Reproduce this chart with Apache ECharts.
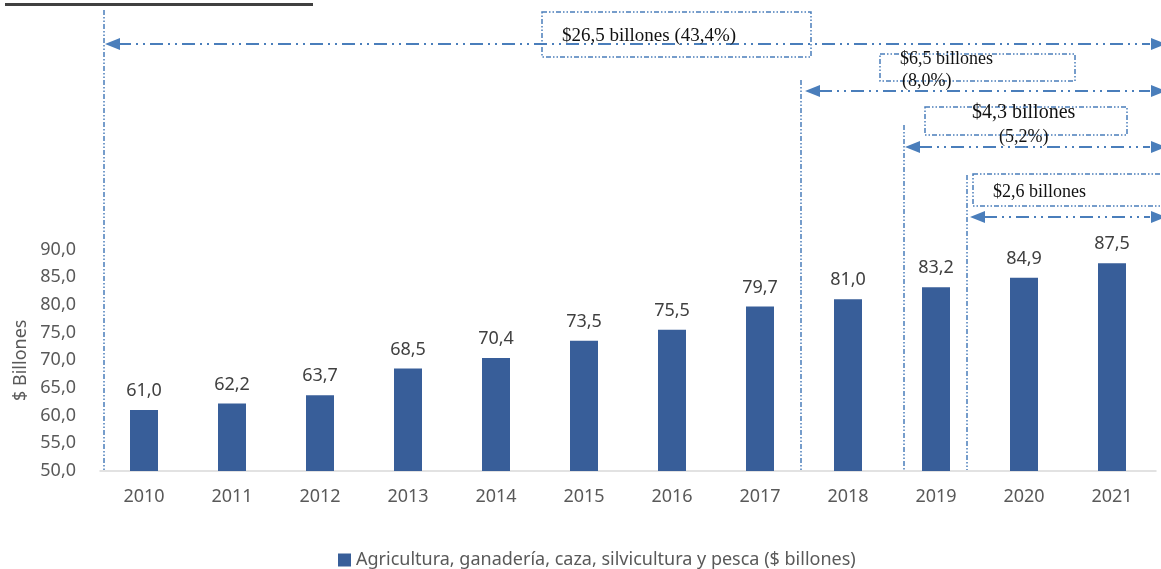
<!DOCTYPE html>
<html>
<head>
<meta charset="utf-8">
<script src="https://cdn.jsdelivr.net/npm/echarts@6/dist/echarts.min.js"></script>
<style>
  html, body { margin: 0; padding: 0; background: #fff; }
  #chart { width: 1161px; height: 569px; }
</style>
</head>
<body>
<div id="chart"></div>
<script>
const years = ['2010', '2011', '2012', '2013', '2014', '2015', '2016', '2017', '2018', '2019', '2020', '2021'];
const valores = [61.0, 62.2, 63.7, 68.5, 70.4, 73.5, 75.5, 79.7, 81.0, 83.2, 84.9, 87.5];
const serieNombre = 'Agricultura, ganadería, caza, silvicultura y pesca ($ billones)';
const notas = ['$26,5 billones (43,4%)', '$6,5 billones', '(8,0%)', '$4,3 billones', '(5,2%)', '$2,6 billones'];

const azul = '#4a7ebb';
const fmt = v => v.toFixed(1).replace('.', ',');

// helpers para las anotaciones
function hLine(x1, x2, y) {
  return { type: 'line', shape: { x1, y1: y, x2, y2: y },
    style: { stroke: azul, lineWidth: 2, lineDash: [13, 5, 2, 5, 2, 5] } };
}
function vLine(x, y1, y2) {
  return { type: 'line', shape: { x1: x, y1, x2: x, y2 },
    style: { stroke: azul, lineWidth: 1.5, lineDash: [5, 2, 1.5, 2, 1.5, 2] } };
}
function box(x1, y1, x2, y2) {
  return { type: 'rect', shape: { x: x1, y: y1, width: x2 - x1, height: y2 - y1 },
    style: { fill: 'none', stroke: azul, lineWidth: 1.5, lineDash: [5, 2, 1.5, 2, 1.5, 2] } };
}
function arrowL(x, y) {
  return { type: 'polygon', shape: { points: [[x, y], [x + 15, y - 6], [x + 15, y + 6]] },
    style: { fill: azul } };
}
function arrowR(x, y) {
  return { type: 'polygon', shape: { points: [[x, y], [x - 15, y - 6], [x - 15, y + 6]] },
    style: { fill: azul } };
}
function nota(text, x, y, size) {
  return { type: 'text', x, y,
    style: { text, fill: '#111', font: size + 'px "Liberation Serif", serif', verticalAlign: 'middle' } };
}

const graficos = [
  { type: 'rect', shape: { x: 5, y: 3, width: 308, height: 3 }, style: { fill: '#404040' } },
  vLine(104, 10, 470), vLine(801, 80, 470), vLine(904, 125, 470), vLine(967, 175, 470),
  hLine(118, 1150, 44), arrowL(105, 44), arrowR(1166, 44),
  hLine(819, 1150, 91), arrowL(805, 91), arrowR(1166, 91),
  hLine(919, 1150, 147), arrowL(905, 147), arrowR(1166, 147),
  hLine(984, 1150, 217), arrowL(970, 217), arrowR(1166, 217),
  box(542, 12, 811, 57), box(880, 54, 1075, 81), box(925, 107, 1127, 135), box(973, 174, 1166, 206),
  nota(notas[0], 562, 36, 19),
  nota(notas[1], 900, 59, 18), nota(notas[2], 902, 81, 18),
  nota(notas[3], 972, 113, 20), nota(notas[4], 999, 137, 18),
  nota(notas[5], 993, 192, 18)
];

const chart = echarts.init(document.getElementById('chart'));
const option = {
  animation: false,
  textStyle: { fontFamily: '"Noto Sans", sans-serif' },
  grid: { left: 100, right: 5, top: 249.5, bottom: 98 },
  legend: {
    data: [serieNombre],
    left: 333, top: 546,
    itemWidth: 13, itemHeight: 13, itemGap: 4,
    icon: 'rect',
    textStyle: { fontSize: 18, color: '#595959' }
  },
  xAxis: {
    type: 'category',
    data: years,
    axisLine: { lineStyle: { color: '#d9d9d9', width: 1.5 } },
    axisTick: { show: false },
    axisLabel: { fontSize: 18, color: '#595959', margin: 17 }
  },
  yAxis: {
    type: 'value',
    min: 50, max: 90, interval: 5,
    name: '$ Billones',
    nameLocation: 'middle',
    nameGap: 68,
    nameTextStyle: { fontSize: 18, color: '#595959' },
    splitLine: { show: false },
    axisLine: { show: false },
    axisTick: { show: false },
    axisLabel: { fontSize: 18, color: '#595959', margin: 24, formatter: v => fmt(v) }
  },
  series: [{
    name: serieNombre,
    type: 'bar',
    data: valores,
    barWidth: 28,
    itemStyle: { color: '#385e99' },
    label: {
      show: true, position: 'top', distance: 10,
      fontSize: 18, color: '#404040',
      formatter: p => fmt(p.value)
    }
  }],
  graphic: graficos
};
chart.setOption(option);
window.addEventListener('resize', function () {
  chart.resize();
});
</script>
</body>
</html>
